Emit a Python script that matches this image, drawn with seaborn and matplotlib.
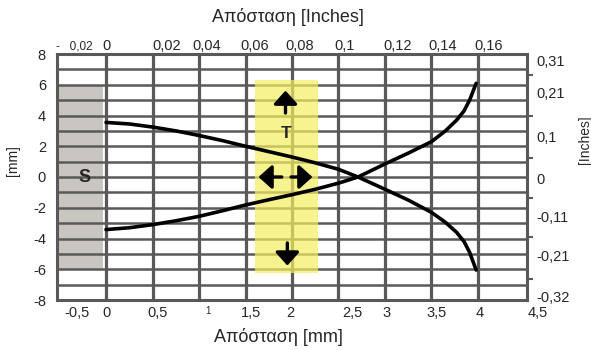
import numpy as np
import pandas as pd
import seaborn as sns
import matplotlib
matplotlib.use("Agg")
import matplotlib.pyplot as plt
from matplotlib.transforms import ScaledTranslation

# ---------------- data ----------------
x_mm = [0, 0.25, 0.5, 0.75, 1, 1.25, 1.5, 1.75, 2, 2.25, 2.5, 2.71, 3, 3.25, 3.5,
        3.65, 3.77, 3.85, 3.91, 3.98]
y_upper = [3.55, 3.45, 3.25, 3.0, 2.7, 2.37, 2.0, 1.65, 1.3, 0.92, 0.5, 0.0, -0.8,
           -1.5, -2.3, -2.95, -3.6, -4.2, -4.9, -6.05]
y_lower = [-3.42, -3.3, -3.1, -2.85, -2.56, -2.2, -1.82, -1.48, -1.15, -0.8, -0.4, 0.0,
           0.85, 1.55, 2.3, 3.0, 3.7, 4.3, 5.0, 6.09]

bottom_ticks = [-0.5, 0, 0.5, 1, 1.5, 2, 2.5, 3, 3.5, 4, 4.5]
bottom_labels = ["-0,5", "0", "0,5", "1", "1,5", "2", "2,5", "3", "3,5", "4", "4,5"]
top_ticks = [-0.5, 0, 0.5, 1, 1.5, 2, 2.5, 3, 3.5, 4]
top_labels = ["-   0,02", "0", "0,02", "0,04", "0,06", "0,08", "0,1", "0,12", "0,14", "0,16"]
left_ticks = [-8, -6, -4, -2, 0, 2, 4, 6, 8]
left_labels = ["-8", "-6", "-4", "-2", "0", "2", "4", "6", "8"]
right_ticks = [7.55, 5.49, 2.64, -0.07, -2.56, -5.11, -7.75]
right_labels = ["0,31", "0,21", "0,1", "0", "-0,11", "-0,21", "-0,32"]
right_minor = [6.64, 3.94, 1.25, -1.34, -3.87, -6.66]

sensor_x = [-0.527, -0.03]
sensor_y = [-6.0, 6.0]
target_x = [1.60, 2.28]
target_y = [-6.23, 6.32]

# ---------------- styling ----------------
sns.set_theme(style="white")
plt.rcParams["font.family"] = ["Liberation Sans", "DejaVu Sans"]
GRID = "#595959"

fig = plt.figure(figsize=(5.91, 3.5), dpi=100)
ax = fig.add_axes([57 / 591, 50 / 350, 470 / 591, 246 / 350])
ax.set_xlim(-0.527, 4.527)
ax.set_ylim(-8, 8)
ax.set_facecolor("white")

# sensor block (grey) below grid
ax.fill_between(sensor_x, sensor_y[0], sensor_y[1], color="#c9c5c1", lw=0, zorder=0.5)

# grid
for gx in np.arange(0, 4.01, 0.5):
    ax.axvline(gx, color=GRID, lw=2.3, zorder=1)
for gy in np.arange(-7, 7.01, 1):
    ax.axhline(gy, color=GRID, lw=1.8, zorder=1)

# target (yellow) over grid
ax.fill_between(target_x, target_y[0], target_y[1], color="#f5f060", alpha=0.7, lw=0, zorder=2)

# curves
df = pd.DataFrame({
    "x": x_mm + x_mm,
    "y": y_upper + y_lower,
    "curve": ["upper"] * len(x_mm) + ["lower"] * len(x_mm),
})
sns.lineplot(data=df, x="x", y="y", hue="curve", palette=["black", "black"],
             estimator=None, sort=False, lw=2.6, legend=False, ax=ax, zorder=4,
             solid_capstyle="round", solid_joinstyle="round")

# arrows
ap = dict(arrowstyle="-|>,head_length=0.4,head_width=0.36", lw=2.4, color="black",
          mutation_scale=20, shrinkA=0, shrinkB=0)
for tail, tip in [((1.93, 4.16), (1.93, 5.62)), ((1.95, -4.29), (1.95, -5.76)),
                  ((1.89, 0.0), (1.64, 0.0)), ((1.99, 0.0), (2.22, 0.0))]:
    ax.annotate("", xy=tip, xytext=tail, arrowprops=ap, zorder=5)

ax.text(1.94, 2.86, "T", fontsize=12.5, fontweight="bold", ha="center", va="center", zorder=5)
ax.text(-0.226, 0.0, "S", fontsize=13, fontweight="bold", ha="center", va="center", zorder=5)

# spines
for s in ax.spines.values():
    s.set_color(GRID)
    s.set_linewidth(2.2)
    s.set_zorder(6)

ax.set_xlabel("")
ax.set_ylabel("")

# bottom axis
ax.set_xticks(bottom_ticks)
ax.set_xticklabels(bottom_labels, fontsize=10.5)
ax.tick_params(axis="x", length=0, pad=4)
bottom_dx = [17, 0, 5.5, 9, 5.5, -2, 13.5, 2, 5.5, 2, 13]
for lab, dx in zip(ax.get_xticklabels(), bottom_dx):
    lab.set_transform(lab.get_transform() + ScaledTranslation(dx / 100, 0, fig.dpi_scale_trans))
ax.get_xticklabels()[3].set_fontsize(7)

# left axis
ax.set_yticks(left_ticks)
ax.set_yticklabels(left_labels, fontsize=10.5)
ax.tick_params(axis="y", length=0, pad=8)

# top axis
axt = ax.secondary_xaxis("top")
axt.set_xticks(top_ticks)
axt.set_xticklabels(top_labels, fontsize=10.5)
axt.tick_params(axis="x", length=0, pad=1)
axt.spines["top"].set_visible(False)
top_dx = [15, 0, 14.5, 8, 9.5, 8, 6.5, 13, 11.5, 11]
for lab, dx in zip(axt.get_xticklabels(), top_dx):
    lab.set_transform(lab.get_transform() + ScaledTranslation(dx / 100, 0, fig.dpi_scale_trans))
axt.get_xticklabels()[0].set_fontsize(8.5)

# right axis
axr = ax.secondary_yaxis("right")
axr.set_yticks(right_ticks)
axr.set_yticklabels(right_labels, fontsize=10.5)
axr.set_yticks(right_minor, minor=True)
axr.tick_params(axis="y", which="major", length=0, pad=7)
axr.tick_params(axis="y", which="minor", length=4, width=1.5, color=GRID)
axr.spines["right"].set_visible(False)

# axis titles
fig.text(288 / 591, 1 - 17 / 350, "Απόσταση [Inches]", fontsize=13, ha="center", va="center")
fig.text(278 / 591, 1 - 337 / 350, "Απόσταση [mm]", fontsize=13, ha="center", va="center")
fig.text(13 / 591, 1 - 161 / 350, "[mm]", fontsize=10, rotation=90, ha="center", va="center")
fig.text(585 / 591, 1 - 140 / 350, "[Inches]", fontsize=10, rotation=90, ha="center", va="center")

fig.savefig("out.png", dpi=100, facecolor="white")
